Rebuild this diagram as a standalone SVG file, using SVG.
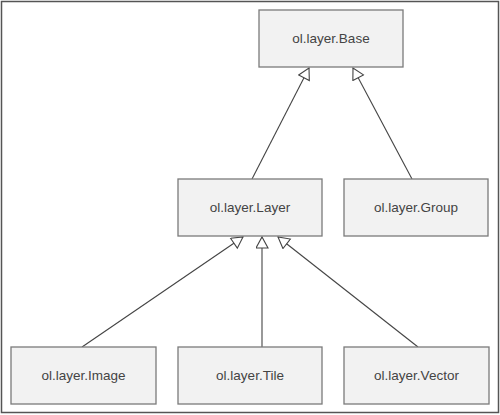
<svg xmlns="http://www.w3.org/2000/svg" width="500" height="415" viewBox="0 0 500 415">
<style>
.box{fill:#f2f2f2;stroke:#7a7a7a;stroke-width:1.3}
.lbl{font-family:"Liberation Sans",Arial,sans-serif;font-size:13.5px;fill:#444;text-anchor:middle;dominant-baseline:central}
.edge{stroke:#444;stroke-width:1.1;fill:none;marker-end:url(#tri)}
</style>
<defs>
<marker id="tri" markerWidth="14" markerHeight="14" refX="12" refY="6.5" orient="auto" markerUnits="userSpaceOnUse" viewBox="0 0 14 14">
<path d="M1,0.5 L12,6.5 L1,12.5 Z" fill="#fff" stroke="#444" stroke-width="1.1"/>
</marker>
</defs>
<rect x="1.5" y="1.5" width="497" height="411" fill="#fff" stroke="#555" stroke-width="1.5"/>
<g id="connectors">
<path class="edge" d="M252,179 L309,68"/>
<path class="edge" d="M412,179 L353,68"/>
<path class="edge" d="M82,347 L243,237"/>
<path class="edge" d="M262,347 L262,237"/>
<path class="edge" d="M418,347 L278,237"/>
</g>
<g id="base"><rect class="box" x="259" y="10" width="144" height="57"/><text class="lbl" x="331" y="38.5">ol.layer.Base</text></g>
<g id="layer"><rect class="box" x="178" y="179" width="144" height="57"/><text class="lbl" x="250" y="207.5">ol.layer.Layer</text></g>
<g id="group"><rect class="box" x="344" y="179" width="144" height="57"/><text class="lbl" x="416" y="207.5">ol.layer.Group</text></g>
<g id="image"><rect class="box" x="11" y="347" width="145" height="57"/><text class="lbl" x="83.5" y="375.5">ol.layer.Image</text></g>
<g id="tile"><rect class="box" x="178" y="347" width="144" height="57"/><text class="lbl" x="250" y="375.5">ol.layer.Tile</text></g>
<g id="vector"><rect class="box" x="344" y="347" width="145" height="57"/><text class="lbl" x="416.5" y="375.5">ol.layer.Vector</text></g>
</svg>
